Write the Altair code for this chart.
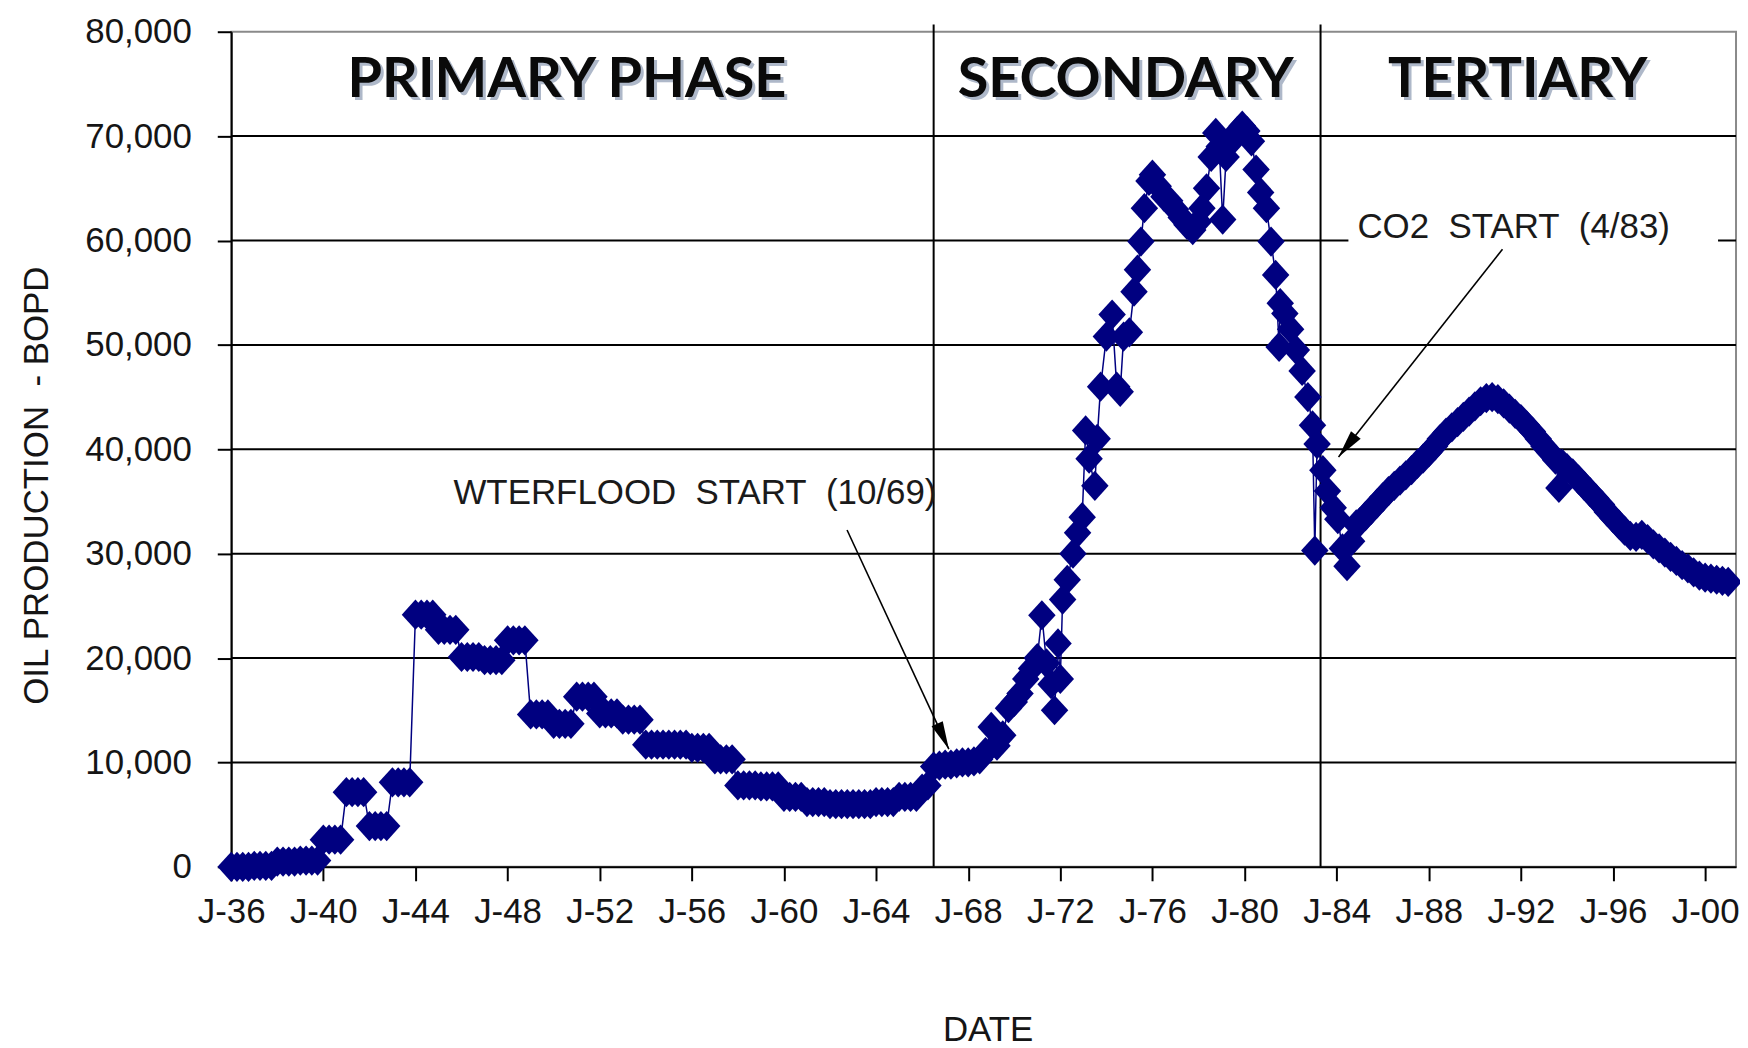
import altair as alt
import pandas as pd

# ---------------- data ----------------
# 1936 Q1 .. 1966 Q2 : quarterly readings (annual plateaus)
STEP_START = 1936.0
STEP_OIL = [
    0, 0, 0, 0,                      # 1936
    100, 100, 100, 100,              # 1937
    500, 500, 500, 500,              # 1938
    600, 600, 600, 600,              # 1939
    2600, 2600, 2600, 2600,          # 1940
    7150, 7150, 7150, 7150,          # 1941
    3900, 3900, 3900, 3900,          # 1942
    8100, 8100, 8100, 8100,          # 1943
    24150, 24150, 24150, 24150,      # 1944
    22700, 22700, 22700, 22700,      # 1945
    20100, 20100, 20100, 20100,      # 1946
    19800, 19800, 19800, 19800,      # 1947
    21700, 21700, 21700, 21700,      # 1948
    14600, 14600, 14600, 14600,      # 1949
    13700, 13700, 13700, 13700,      # 1950
    16300, 16300, 16300, 16300,      # 1951
    14700, 14700, 14700, 14700,      # 1952
    14100, 14100, 14100, 14100,      # 1953
    11700, 11700, 11700, 11700,      # 1954
    11700, 11700, 11700, 11700,      # 1955
    11400, 11400, 11400, 11400,      # 1956
    10300, 10300, 10300, 10300,      # 1957
    7800, 7800, 7800, 7800,          # 1958
    7700, 7700, 7700, 7700,          # 1959
    6700, 6700, 6700, 6700,          # 1960
    6200, 6200, 6200, 6200,          # 1961
    6000, 6000, 6000, 6000,          # 1962
    6000, 6000, 6000, 6000,          # 1963
    6200, 6200, 6200, 6200,          # 1964
    6700, 6700, 6700, 6700,          # 1965
    7500, 7800,                      # 1966 H1
]

LATE_YEARS = [
    1966.50, 1966.75, 1967.00, 1967.25, 1967.50, 1967.75, 1968.00, 1968.25,
    1968.50, 1968.75, 1969.00, 1969.25, 1969.50, 1969.75, 1970.00, 1970.25,
    1970.50, 1970.75, 1971.00, 1971.20, 1971.40, 1971.60, 1971.75, 1971.90,
    1972.00, 1972.10, 1972.30, 1972.55, 1972.75, 1972.95, 1973.10, 1973.25,
    1973.50, 1973.60, 1973.75, 1974.00, 1974.25, 1974.45, 1974.60, 1974.75,
    1975.00, 1975.20, 1975.35, 1975.50, 1975.65, 1975.85, 1976.00, 1976.25,
    1976.50, 1976.75, 1977.00, 1977.25, 1977.50, 1977.75, 1978.00, 1978.15,
    1978.35, 1978.55, 1978.75, 1978.90, 1979.05, 1979.20, 1979.45, 1979.70,
    1979.90, 1980.10, 1980.30, 1980.50, 1980.70, 1980.95, 1981.15, 1981.35,
    1981.50, 1981.55, 1981.75, 1982.00, 1982.25, 1982.50, 1982.75, 1982.95,
    1983.05, 1983.15, 1983.40, 1983.60, 1983.85, 1984.05, 1984.25, 1984.45,
    1984.65, 1984.85, 1985.00, 1985.25, 1985.50, 1985.75, 1986.00, 1986.25,
    1986.50, 1986.75, 1987.00, 1987.25, 1987.50, 1987.75, 1988.00, 1988.25,
    1988.50, 1988.75, 1989.00, 1989.25, 1989.50, 1989.75, 1990.00, 1990.25,
    1990.50, 1990.75, 1991.00, 1991.25, 1991.50, 1991.75, 1992.00, 1992.25,
    1992.50, 1992.75, 1993.00, 1993.25, 1993.50, 1993.65, 1993.80, 1994.00,
    1994.25, 1994.50, 1994.75, 1995.00, 1995.25, 1995.50, 1995.75, 1996.00,
    1996.25, 1996.50, 1996.75, 1997.00, 1997.25, 1997.50, 1997.75, 1998.00,
    1998.25, 1998.50, 1998.75, 1999.00, 1999.25, 1999.50, 1999.75, 2000.00,
    2000.25, 2000.50, 2000.75, 2001.00,
]
LATE_OIL = [
    9600, 9700, 9800, 9800, 9900, 10000, 10000, 10100,
    10300, 11000, 13400, 11600, 12600, 15200, 15800, 16600,
    18000, 19000, 20000, 24100, 19500, 17500, 15000, 21400,
    18000, 25600, 27500, 30000, 32000, 33500, 41800, 39100,
    36500, 41000, 46000, 50800, 52900, 46000, 45500, 50800,
    51200, 55100, 57200, 59900, 63100, 65700, 66300, 65200,
    64200, 63800, 63000, 62200, 61500, 61000, 61800, 63100,
    65000, 68000, 70300, 69000, 62000, 68000, 69500, 70500,
    71000, 70500, 69500, 66800, 64600, 63100, 59900, 56700,
    49800, 54000, 53000, 51500, 49500, 47500, 45000, 42300,
    30300, 40500, 38000, 36000, 34400, 33300, 30500, 28800,
    31200, 32800, 33000, 33600, 34200, 34800, 35400, 36000,
    36500, 37000, 37500, 38000, 38600, 39100, 39700, 40300,
    41000, 41600, 42100, 42600, 43100, 43600, 44100, 44600,
    44900, 45000, 44800, 44400, 43900, 43400, 42900, 42300,
    41700, 41000, 40300, 39700, 39000, 36300, 38600, 38200,
    37700, 37100, 36500, 35900, 35300, 34700, 34000, 33400,
    32800, 32200, 31700, 31600, 31800, 31400, 30900, 30500,
    30100, 29700, 29300, 28900, 28600, 28200, 27900, 27700,
    27600, 27500, 27400, 27300,
]

X_DOMAIN = [1936.0, 2001.34]
Y_DOMAIN = [0, 80000]
X_TICKS = list(range(1936, 2001, 4))
Y_TICKS = list(range(0, 80001, 10000))
GRID_VALUES = list(range(10000, 70001, 10000))

PHASE_LINE_X = [1966.5, 1983.3]
PHASE_LINE_BOTTOM = [0, 0]
PHASE_LINE_TOP = [80700, 80700]

PHASE_NAMES = ["PRIMARY PHASE", "SECONDARY", "TERTIARY"]
PHASE_NAME_X = [1950.58, 1974.84, 1991.86]
PHASE_NAME_Y = [73700, 73700, 73700]

NOTE_TEXT = ["WTERFLOOD\u00a0 START\u00a0 (10/69)", "CO2\u00a0 START\u00a0 (4/83)"]
NOTE_X = [1945.65, 1984.90]
NOTE_Y = [34800, 60250]

NOTE_BOX_X = [1984.51]
NOTE_BOX_X2 = [2000.56]
NOTE_BOX_Y = [58700]
NOTE_BOX_Y2 = [63500]

ARROW_X1 = [1962.74, 1991.20]
ARROW_Y1 = [32270, 59160]
ARROW_X2 = [1967.16, 1984.08]
ARROW_Y2 = [11270, 39270]
ARROW_ANGLE = [155.3, 218.3]

# ---------------- tables ----------------
step_years = [STEP_START + 0.25 * i for i in range(len(STEP_OIL))]
series = pd.DataFrame({"x": step_years + LATE_YEARS, "y": STEP_OIL + LATE_OIL})
grid_df = pd.DataFrame({"y": GRID_VALUES})
phase_df = pd.DataFrame({"x": PHASE_LINE_X, "y": PHASE_LINE_BOTTOM, "y2": PHASE_LINE_TOP})
names_df = pd.DataFrame({"x": PHASE_NAME_X, "y": PHASE_NAME_Y, "t": PHASE_NAMES})
notes_df = pd.DataFrame({"x": NOTE_X, "y": NOTE_Y, "t": NOTE_TEXT})
box_df = pd.DataFrame({"x": NOTE_BOX_X, "x2": NOTE_BOX_X2, "y": NOTE_BOX_Y, "y2": NOTE_BOX_Y2})
arrow_df = pd.DataFrame({"x": ARROW_X1, "y": ARROW_Y1, "x2": ARROW_X2, "y2": ARROW_Y2})
head_df = pd.DataFrame({"x": ARROW_X2, "y": ARROW_Y2, "a": ARROW_ANGLE})

NAVY = "#000080"
FONT = "Liberation Sans"
xs = alt.Scale(domain=X_DOMAIN, nice=False, zero=False)
ys = alt.Scale(domain=Y_DOMAIN, nice=False, zero=False)

X_AX = alt.Axis(
    values=X_TICKS, format="d", labelExpr="'J-' + slice(datum.label, 2)",
    titleX=759, titleY=163, titleBaseline="middle", titleAlign="center",
    labelPadding=14, grid=False, labelOverlap=False, labelFlush=False, labelBound=False,
)
Y_AX = alt.Axis(
    values=Y_TICKS, format=",d",
    titleX=-195, titleY=455, titleBaseline="middle", titleAlign="center", titleAngle=270,
    labelPadding=26, grid=False, labelOverlap=False, labelFlush=False,
)
X_TITLE = "DATE"
Y_TITLE = "OIL PRODUCTION\u00a0 - BOPD"


def X(field="x"):
    return alt.X(f"{field}:Q", scale=xs, axis=X_AX, title=X_TITLE)


def Y(field="y"):
    return alt.Y(f"{field}:Q", scale=ys, axis=Y_AX, title=Y_TITLE)


grid = alt.Chart(grid_df).mark_rule(color="black", strokeWidth=2).encode(y=Y())

phases = alt.Chart(phase_df).mark_rule(color="black", strokeWidth=2).encode(
    x=X(), y=Y(), y2="y2:Q",
)

line = alt.Chart(series).mark_line(color=NAVY, strokeWidth=1.5).encode(
    x=X(), y=Y(), order="x:Q",
)

DIAMOND = "M0,-1.1L1,0L0,1.1L-1,0Z"
points = alt.Chart(series).mark_point(
    shape=DIAMOND, filled=True, size=760, color=NAVY, opacity=1, strokeWidth=0
).encode(x=X(), y=Y())

shadow = alt.Chart(names_df).mark_text(
    font="Lato", fontWeight="bold", fontSize=56, color="#5f7394", opacity=0.5,
    align="center", baseline="alphabetic", dx=3, dy=3,
).encode(x=X(), y=Y(), text="t:N")

names = alt.Chart(names_df).mark_text(
    font="Lato", fontWeight="bold", fontSize=56, color="#0a0a0a",
    align="center", baseline="alphabetic",
).encode(x=X(), y=Y(), text="t:N")

box = alt.Chart(box_df).mark_rect(color="white").encode(
    x=X(), x2="x2:Q", y=Y(), y2="y2:Q",
)

notes = alt.Chart(notes_df).mark_text(
    font=FONT, fontSize=35, color="#1a1a1a", align="left", baseline="alphabetic",
).encode(x=X(), y=Y(), text="t:N")

arrows = alt.Chart(arrow_df).mark_rule(color="black", strokeWidth=1.6).encode(
    x=X(), x2="x2:Q", y=Y(), y2="y2:Q",
)

HEAD = "M0,0L0.33,1.5L-0.33,1.5Z"
heads = alt.Chart(head_df).mark_point(
    shape=HEAD, filled=True, size=1400, color="black", opacity=1, strokeWidth=0
).encode(
    x=X(), y=Y(),
    angle=alt.Angle("a:Q", scale=None),
)

chart = alt.layer(
    grid, phases, line, points, shadow, names, box, notes, arrows, heads
).properties(
    width=1510, height=838,
    padding={"left": 224, "top": 22, "right": 4, "bottom": 180},
    autosize=alt.AutoSizeParams(type="none"),
).configure_view(
    stroke="#8a8a8a", strokeWidth=2
).configure_axis(
    domainColor="black", domainWidth=2, tickColor="black", tickWidth=2, tickSize=14,
    labelFont=FONT, labelFontSize=35, labelColor="#151515",
    titleFont=FONT, titleFontSize=35, titleFontWeight="normal", titleColor="#151515",
)

chart.save("out.html", embed_options={"renderer": "svg", "actions": False})
